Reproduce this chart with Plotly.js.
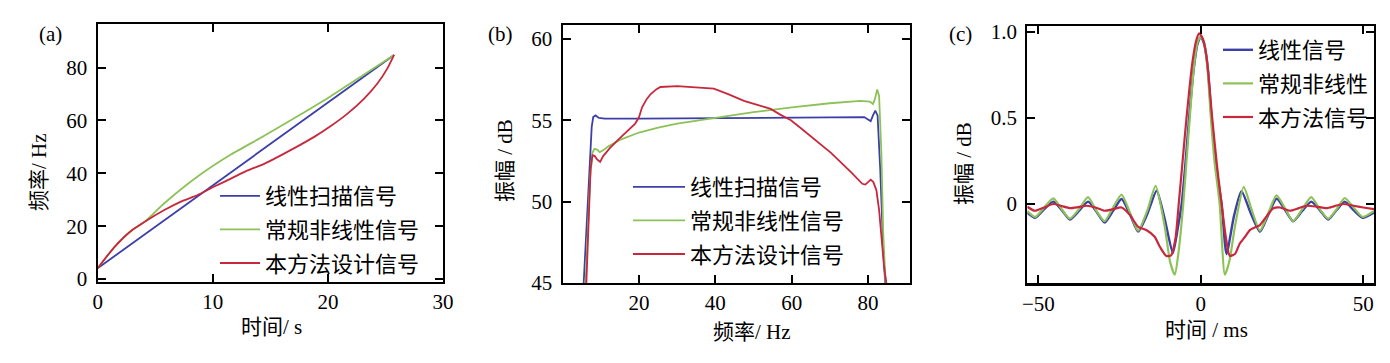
<!DOCTYPE html>
<html>
<head>
<meta charset="utf-8">
<script src="https://cdn.plot.ly/plotly-3.0.1.min.js"></script>
<style>html,body{margin:0;padding:0;background:#fff;}#chart{width:1390px;height:363px;}</style>
</head>
<body>
<div id="chart"></div>
<script>
// ---------- Panel (a): frequency vs time ----------
const aLinearX = [0, 5, 9, 15, 20, 25.75];
const aLinearY = [4.1, 19.8, 32.4, 51.2, 66.9, 84.8];
const aConvX = [0, 1.45, 2.89, 4.05, 5.79, 8.68, 11.57, 14.47, 17.36, 20.25, 23.15, 25.75];
const aConvY = [4.1, 12.1, 18.2, 21.6, 28.7, 38.8, 47.1, 54.2, 61.6, 69.2, 77.4, 84.8];
const aNewX = [0, 1.45, 2.89, 4.05, 5.79, 7.23, 8.68, 10.13, 11.57, 13.02, 14.47, 15.91, 17.36, 18.81, 20.25, 21.7, 23.15, 24.3, 25.17, 25.75];
const aNewY = [4.1, 12.1, 18.2, 21.6, 26.1, 29.3, 31.8, 35.0, 38.0, 41.1, 43.6, 46.8, 50.2, 53.8, 57.9, 62.6, 68.3, 74.0, 79.7, 84.8];

// ---------- Panel (b): amplitude spectrum ----------
const bLinearX = [5.5, 6.2, 7.0, 7.6, 8.0, 8.6, 9.5, 11, 20, 40, 60, 76, 79.0, 80.0, 80.7, 81.3, 81.9, 82.5, 83.2, 84.0, 84.5];
const bLinearY = [45, 48.5, 52.5, 54.6, 55.2, 55.3, 55.15, 55.1, 55.1, 55.12, 55.15, 55.2, 55.2, 55.05, 54.95, 55.3, 55.6, 55.3, 52, 47, 45];
const bConvX = [6.0, 6.6, 7.2, 7.8, 8.3, 9.0, 9.7, 10.5, 12, 15, 20, 25, 30, 40, 50, 60, 70, 78, 80.5, 81.3, 81.8, 82.4, 82.9, 83.5, 84.0, 84.6];
const bConvY = [45, 48, 51.5, 53.0, 53.25, 53.2, 53.05, 53.15, 53.4, 53.8, 54.25, 54.55, 54.8, 55.15, 55.5, 55.8, 56.05, 56.2, 56.15, 56.0, 56.3, 56.9, 56.5, 53, 48, 45];
const bNewX = [6.2, 6.8, 7.3, 7.8, 8.4, 9.0, 9.8, 10.6, 12.4, 14.5, 16.8, 19.0, 20.0, 20.8, 22.0, 23.0, 24.5, 25.6, 30, 34.4, 39.6, 43.5, 47.5, 51, 54.5, 57, 59.8, 62.5, 65.1, 70.3, 75.6, 78.5, 79.3, 80.0, 80.7, 81.4, 82.2, 82.9, 83.5, 84.2, 84.8];
const bNewY = [45, 49, 52, 52.85, 52.8, 52.6, 52.45, 52.8, 53.3, 53.8, 54.3, 54.8, 55.2, 55.8, 56.3, 56.6, 56.9, 57.05, 57.1, 57.05, 56.95, 56.6, 56.2, 55.95, 55.7, 55.35, 55.0, 54.5, 54.0, 53.0, 51.8, 51.1, 51.05, 51.2, 51.35, 51.2, 50.7, 49.5, 48, 46, 45];

// ---------- Panel (c): pulse compression ----------
const cLinearX = [-53.4, -51.0, -48.2, -45.4, -42.8, -40.3, -37.5, -34.7, -32.1, -29.6, -27.0, -24.4, -21.8, -19.3, -16.5, -13.6, -11.2, -8.6, -7.0, -5.9, -4.8, -3.6, -2.2, -1.0, 0, 1.0, 2.2, 3.3, 4.8, 6.4, 7.9, 10.2, 12.5, 15.3, 18.2, 20.8, 23.3, 25.8, 28.4, 31.2, 34.0, 36.6, 39.2, 41.8, 44.3, 47.0, 49.8, 53.3];
const cLinearY = [-0.05, -0.08, -0.03, 0.014, -0.035, -0.09, -0.04, 0.014, -0.045, -0.108, -0.04, 0.029, -0.06, -0.16, -0.06, 0.077, -0.08, -0.285, -0.13, 0.0, 0.22, 0.5, 0.78, 0.93, 0.97, 0.93, 0.78, 0.5, 0.2, 0.0, -0.29, -0.07, 0.075, -0.05, -0.16, -0.06, 0.031, -0.03, -0.10, -0.04, 0.014, -0.035, -0.09, -0.035, 0.014, -0.035, -0.08, -0.05];
const cConvX = [-53.4, -51.0, -48.2, -45.4, -42.8, -40.3, -37.5, -34.7, -32.1, -29.6, -27.0, -24.4, -21.8, -19.3, -16.5, -13.9, -11.2, -9.4, -8.0, -6.8, -5.4, -4.4, -3.4, -2.1, -1.0, 0, 1.0, 2.0, 3.1, 4.2, 5.8, 7.4, 8.8, 10.6, 13.2, 15.6, 18.2, 20.8, 23.3, 25.8, 28.4, 31.2, 34.0, 36.6, 39.2, 41.8, 44.3, 47.0, 49.8, 53.3];
const cConvY = [-0.04, -0.075, -0.02, 0.033, -0.03, -0.085, -0.03, 0.04, -0.04, -0.10, -0.02, 0.054, -0.05, -0.155, -0.04, 0.105, -0.12, -0.34, -0.41, -0.27, 0.0, 0.25, 0.5, 0.8, 0.94, 0.97, 0.94, 0.8, 0.5, 0.25, 0.0, -0.41, -0.33, -0.12, 0.10, -0.03, -0.155, -0.05, 0.05, -0.02, -0.10, -0.03, 0.04, -0.03, -0.085, -0.03, 0.035, -0.02, -0.075, -0.04];
const cNewX = [-53.4, -51.1, -48.2, -45.4, -42.8, -40.3, -37.7, -35.2, -32.4, -29.6, -27.0, -24.4, -21.8, -19.3, -16.8, -14.2, -12.6, -10.6, -9.1, -7.8, -6.8, -5.6, -4.4, -2.6, -1.4, -0.5, 0.6, 1.8, 3.5, 5.0, 6.4, 7.6, 8.9, 10.5, 12.0, 13.6, 15.1, 16.7, 18.2, 20.3, 22.3, 24.4, 27.4, 30.0, 32.6, 35.6, 38.7, 41.2, 43.8, 47.0, 50.0, 53.3];
const cNewY = [-0.016, -0.039, -0.02, 0.0, -0.012, -0.024, -0.018, -0.01, -0.02, -0.039, -0.03, -0.02, -0.064, -0.132, -0.151, -0.19, -0.248, -0.302, -0.297, -0.2, 0.0, 0.25, 0.5, 0.82, 0.95, 0.99, 0.96, 0.85, 0.5, 0.22, 0.0, -0.18, -0.30, -0.29, -0.229, -0.19, -0.151, -0.135, -0.122, -0.07, -0.025, -0.02, -0.039, -0.025, -0.01, -0.015, -0.024, -0.012, 0.0, -0.01, -0.02, -0.03];

const namesAB = ['线性扫描信号', '常规非线性信号', '本方法设计信号'];
const namesC = ['线性信号', '常规非线性', '本方法信号'];
const ticksA_x = [0, 10, 20, 30];
const ticksA_y = [0, 20, 40, 60, 80];
const ticksB_x = [20, 40, 60, 80];
const ticksB_y = [45, 50, 55, 60];
const ticksC_x = [-50, 0, 50];
const ticksC_y = [0, 0.5, 1];
const ticksC_ytext = ['0', '0.5', '1.0'];

const BLUE = '#3c3fa8', GREEN = '#8cc257', RED = '#c8283c';
const W = 1390, H = 363;
const SERIF = 'Liberation Serif, Times New Roman, serif';
const CJK = 'Noto Sans CJK SC, sans-serif';
const MIX = 'Liberation Serif, Noto Sans CJK SC, serif';

function tr(x, y, name, color, xa, ya, leg, grp, width, shape) {
  return {x: x, y: y, name: name, type: 'scatter', mode: 'lines',
    line: {color: color, width: width, shape: shape, smoothing: 0.6},
    xaxis: xa, yaxis: ya, legend: leg, legendgroup: grp};
}
const data = [
  tr(aLinearX, aLinearY, namesAB[0], BLUE, 'x', 'y', 'legend', 'a1', 1.8, 'linear'),
  tr(aConvX, aConvY, namesAB[1], GREEN, 'x', 'y', 'legend', 'a2', 1.8, 'spline'),
  tr(aNewX, aNewY, namesAB[2], RED, 'x', 'y', 'legend', 'a3', 1.8, 'spline'),
  tr(bLinearX, bLinearY, namesAB[0], BLUE, 'x2', 'y2', 'legend2', 'b1', 1.8, 'linear'),
  tr(bConvX, bConvY, namesAB[1], GREEN, 'x2', 'y2', 'legend2', 'b2', 1.8, 'linear'),
  tr(bNewX, bNewY, namesAB[2], RED, 'x2', 'y2', 'legend2', 'b3', 1.8, 'linear'),
  tr(cLinearX, cLinearY, namesC[0], BLUE, 'x3', 'y3', 'legend3', 'c1', 2.4, 'spline'),
  tr(cConvX, cConvY, namesC[1], GREEN, 'x3', 'y3', 'legend3', 'c2', 2.2, 'spline'),
  tr(cNewX, cNewY, namesC[2], RED, 'x3', 'y3', 'legend3', 'c3', 2.2, 'spline')
];

function ax(anchor, domain, range, tickvals, ticktext, standoff) {
  const o = {anchor: anchor, domain: domain, range: range, tickvals: tickvals, ticks: 'inside', ticklen: 8,
    tickwidth: 2, tickcolor: '#000', showline: true, linewidth: 2.2, linecolor: '#000', mirror: 'ticks',
    showgrid: false, zeroline: false, fixedrange: true, automargin: false,
    tickfont: {family: SERIF, size: 21, color: '#000'}, ticklabelstandoff: standoff};
  if (ticktext) o.ticktext = ticktext;
  return o;
}
function px(x) { return x / W; }
function py(y) { return 1 - y / H; }

function ann(text, x, y, angle, size) {
  return {text: text, x: px(x), y: py(y), xref: 'paper', yref: 'paper', showarrow: false,
    xanchor: 'center', yanchor: 'middle', textangle: angle || 0,
    font: {family: MIX, size: size || 21, color: '#000'}};
}
function leg(x, y, iw, gap) {
  return {x: px(x), y: py(y), xanchor: 'left', yanchor: 'top', bgcolor: 'rgba(0,0,0,0)',
    borderwidth: 0, font: {family: CJK, size: 22, color: '#000'}, itemwidth: iw,
    tracegroupgap: gap, traceorder: 'grouped'};
}

const layout = {
  width: W, height: H, margin: {l: 0, r: 0, t: 0, b: 0},
  paper_bgcolor: '#fff', plot_bgcolor: '#fff', showlegend: true,
  xaxis: ax('y', [px(97.7), px(443)], [0, 30], ticksA_x, null, 0),
  yaxis: ax('x', [py(281.7), py(24)], [-1, 96.5], ticksA_y, null, 4),
  xaxis2: ax('y2', [px(562.7), px(910)], [0, 91], ticksB_x, null, 0),
  yaxis2: ax('x2', [py(283), py(25)], [45, 60.86], ticksB_y, null, 4),
  xaxis3: ax('y3', [px(1027.3), px(1374)], [-53.4, 53.3], ticksC_x, null, 0),
  yaxis3: ax('x3', [py(283.3), py(26)], [-0.46, 1.033], ticksC_y, ticksC_ytext, 4),
  legend: leg(215, 175, 40, 2),
  legend2: leg(628, 166, 52, 2),
  legend3: leg(1218, 29, 30, 2),
  annotations: [
    ann('(a)', 50, 34, 0, 21), ann('(b)', 500, 34, 0, 21), ann('(c)', 960, 34, 0, 21),
    ann('时间/ s', 271, 327), ann('频率/ Hz', 39, 172, -90),
    ann('频率/ Hz', 752, 332), ann('振幅 / dB', 505, 161, -90),
    ann('时间 / ms', 1206, 330), ann('振幅 / dB', 964, 163, -90)
  ]
};
Plotly.newPlot('chart', data, layout, {displayModeBar: false, staticPlot: true});
</script>
</body>
</html>
